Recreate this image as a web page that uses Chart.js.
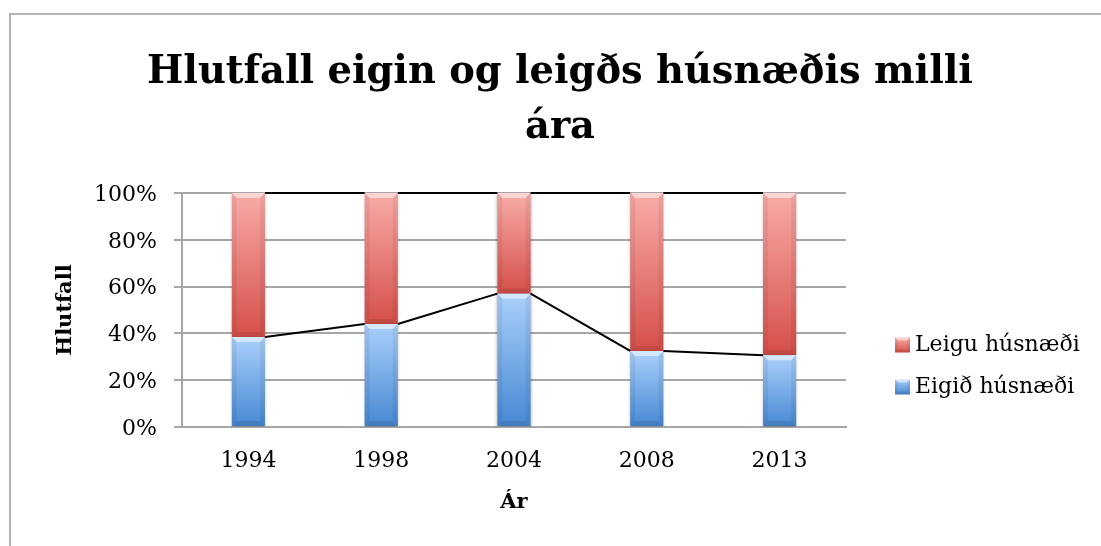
<!DOCTYPE html>
<html>
<head>
<meta charset="utf-8">
<script src="https://cdn.jsdelivr.net/npm/chart.js@4.4.0/dist/chart.umd.min.js"></script>
<style>
  html, body { margin: 0; padding: 0; background: #fff; }
  #wrap { position: relative; width: 1101px; height: 546px; overflow: hidden; }
  #frame { position: absolute; left: 9px; top: 13px; width: 1200px; height: 700px;
           border-left: 2px solid #b3b3b3; border-top: 2px solid #b3b3b3; }
  canvas { position: absolute; left: 0; top: 0; }
</style>
</head>
<body>
<div id="wrap">
  <div id="frame"></div>
  <canvas id="c" width="1101" height="546"></canvas>
</div>
<script>
// ---- data ----
const years = ['1994', '1998', '2004', '2008', '2013'];
const eigidHusnaedi = [38.5, 44, 57, 32.5, 30.7];
const leiguHusnaedi = [61.5, 56, 43, 67.5, 69.3];
const yTicks = [0, 20, 40, 60, 80, 100];
const seriesNames = ['Eigið húsnæði', 'Leigu húsnæði'];
const titleLines = ['Hlutfall eigin og leigðs húsnæðis milli', 'ára'];
const yTitle = 'Hlutfall';
const xTitle = 'Ár';

const SERIF = "'DejaVu Serif', serif";
const BLUE = ['#aad0fb', '#4788d3'];
const RED = ['#f9aca8', '#d54f49'];
const GRID = '#a6a6a6';

function segGradient(c, cols) {
  const chart = c.chart;
  if (!chart.chartArea || !chart.scales.y) return cols[1];
  const i = c.dataIndex, d = c.datasetIndex;
  let lo = 0;
  for (let k = 0; k < d; k++) lo += chart.data.datasets[k].data[i];
  const hi = lo + chart.data.datasets[d].data[i];
  const yT = chart.scales.y.getPixelForValue(hi);
  const yB = chart.scales.y.getPixelForValue(lo);
  const g = chart.ctx.createLinearGradient(0, yT, 0, yB);
  g.addColorStop(0, cols[0]);
  g.addColorStop(1, cols[1]);
  return g;
}

function bevel(ctx, l, t, r, b, bw) {
  ctx.save();
  ctx.fillStyle = 'rgba(255,255,255,0.5)';
  ctx.beginPath(); ctx.moveTo(l, t); ctx.lineTo(r, t); ctx.lineTo(r - bw, t + bw); ctx.lineTo(l + bw, t + bw); ctx.closePath(); ctx.fill();
  ctx.fillStyle = 'rgba(0,0,0,0.06)';
  ctx.beginPath(); ctx.moveTo(l, t); ctx.lineTo(l + bw, t + bw); ctx.lineTo(l + bw, b - bw); ctx.lineTo(l, b); ctx.closePath(); ctx.fill();
  ctx.beginPath(); ctx.moveTo(r, t); ctx.lineTo(r - bw, t + bw); ctx.lineTo(r - bw, b - bw); ctx.lineTo(r, b); ctx.closePath(); ctx.fill();
  ctx.fillStyle = 'rgba(0,0,0,0.09)';
  ctx.beginPath(); ctx.moveTo(l, b); ctx.lineTo(r, b); ctx.lineTo(r - bw, b - bw); ctx.lineTo(l + bw, b - bw); ctx.closePath(); ctx.fill();
  ctx.restore();
}

const decorPlugin = {
  id: 'decor',
  beforeDatasetsDraw(chart) {
    const ctx = chart.ctx;
    ctx.save();
    ctx.shadowColor = 'rgba(0,0,0,0.35)';
    ctx.shadowBlur = 3;
    ctx.shadowOffsetY = 1;
  },
  afterDatasetsDraw(chart) {
    const ctx = chart.ctx;
    ctx.restore();
    chart.data.datasets.forEach((ds, di) => {
      chart.getDatasetMeta(di).data.forEach(el => {
        const w = el.width;
        const top = Math.min(el.y, el.base), bot = Math.max(el.y, el.base);
        bevel(ctx, el.x - w / 2, top, el.x + w / 2, bot, 5);
      });
    });
    ctx.save();
    ctx.strokeStyle = '#000';
    ctx.lineWidth = 2;
    chart.data.datasets.forEach((ds, di) => {
      const pts = chart.getDatasetMeta(di).data;
      for (let j = 0; j < pts.length - 1; j++) {
        const a = pts[j], b = pts[j + 1];
        ctx.beginPath();
        ctx.moveTo(a.x + a.width / 2, a.y);
        ctx.lineTo(b.x - b.width / 2, b.y);
        ctx.stroke();
      }
    });
    ctx.restore();
  },
  afterDraw(chart) {
    const ctx = chart.ctx;
    const items = chart.data.datasets.map(ds => ({ label: ds.label, cols: ds._cols })).reverse();
    const x0 = 895, ys = [345, 387], s = 15;
    ctx.save();
    items.forEach((it, k) => {
      const y = ys[k];
      const t = y - s / 2;
      const g = ctx.createLinearGradient(0, t, 0, t + s);
      g.addColorStop(0, it.cols[0]); g.addColorStop(1, it.cols[1]);
      ctx.fillStyle = g;
      ctx.fillRect(x0, t, s, s);
      bevel(ctx, x0, t, x0 + s, t + s, 3);
      ctx.fillStyle = '#000';
      ctx.font = "22px " + SERIF;
      ctx.textBaseline = 'middle';
      ctx.textAlign = 'left';
      ctx.fillText(it.label, x0 + 20, y);
    });
    ctx.restore();
  }
};

const chart = new Chart(document.getElementById('c'), {
  type: 'bar',
  data: {
    labels: years,
    datasets: [
      { label: seriesNames[0], data: eigidHusnaedi, _cols: BLUE,
        backgroundColor: c => segGradient(c, BLUE), borderWidth: 0,
        barPercentage: 0.25, categoryPercentage: 1.0 },
      { label: seriesNames[1], data: leiguHusnaedi, _cols: RED,
        backgroundColor: c => segGradient(c, RED), borderWidth: 0,
        barPercentage: 0.25, categoryPercentage: 1.0 }
    ]
  },
  options: {
    responsive: false,
    devicePixelRatio: 1,
    animation: false,
    events: [],
    layout: { padding: { left: 23, right: 4, top: 0, bottom: 0 } },
    plugins: {
      legend: { display: false },
      tooltip: { enabled: false },
      title: {
        display: true,
        text: titleLines,
        color: '#000',
        font: { family: SERIF, size: 38.4, weight: 'bold', lineHeight: 1.43 },
        padding: { top: 46, bottom: 37.2 }
      }
    },
    scales: {
      x: {
        stacked: true,
        grid: { display: false, drawTicks: false },
        border: { display: true, color: GRID, width: 2 },
        ticks: { color: '#000', font: { family: SERIF, size: 22 }, padding: 21 },
        title: { display: true, text: xTitle, color: '#000',
                 font: { family: SERIF, size: 21, weight: 'bold', lineHeight: 1.2 },
                 padding: { top: 0, bottom: 30.7 } },
        afterFit: s => { s.height = 119; }
      },
      y: {
        stacked: true,
        min: 0, max: 100,
        afterBuildTicks: s => { s.ticks = yTicks.map(v => ({ value: v })); },
        ticks: { color: '#000', font: { family: SERIF, size: 22 }, padding: 17,
                 labelOffset: 2, callback: v => v + '%' },
        grid: { color: GRID, lineWidth: 2, tickLength: 8 },
        border: { display: true, color: GRID, width: 2 },
        title: { display: true, text: yTitle, color: '#000',
                 font: { family: SERIF, size: 21, weight: 'bold', lineHeight: 1.2 },
                 padding: { top: 29.9, bottom: 0 } },
        afterFit: s => { s.width = 159; }
      },
      yRight: {
        position: 'right',
        display: true,
        grid: { drawOnChartArea: false, drawTicks: false },
        border: { display: false },
        ticks: { display: false },
        afterFit: s => { s.width = 251; }
      }
    }
  },
  plugins: [decorPlugin]
});
</script>
</body>
</html>
